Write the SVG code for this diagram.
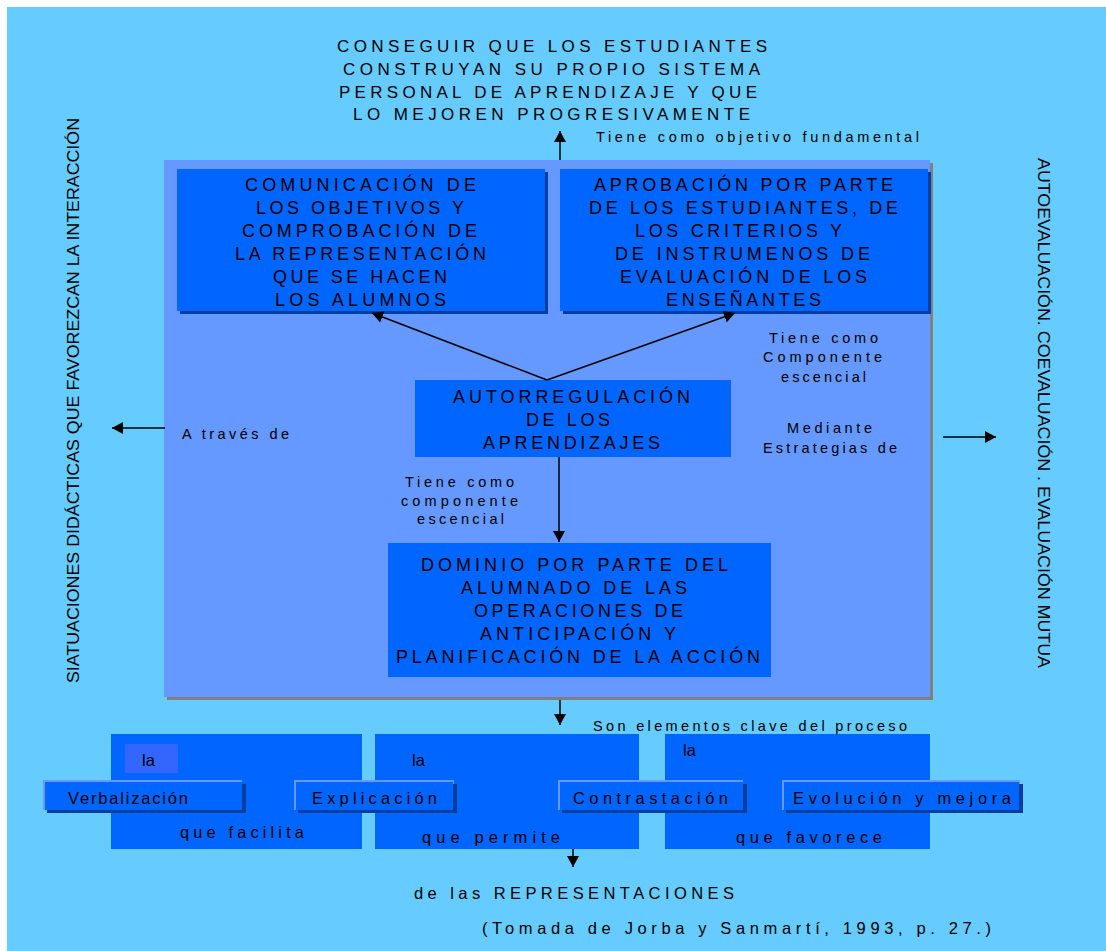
<svg xmlns="http://www.w3.org/2000/svg" width="1106" height="951" viewBox="0 0 1106 951">
<defs>
<style>
text{font-family:"Liberation Sans",Arial,sans-serif;fill:#000}
.t{font-size:17px}
.b{font-size:18px}
.s{font-size:14.5px}
.m{font-size:16.5px}
.v{font-size:17px}
.box{fill:#0066FF}
.sh{fill:#003FA0}
.lt{fill:#6699FF}
.con{stroke:#000;stroke-width:1.5;fill:none;marker-end:url(#ah)}
</style>
<marker id="ah" markerUnits="userSpaceOnUse" markerWidth="12" markerHeight="12" refX="11" refY="6" orient="auto">
<path d="M0,0 L11,6 L0,12 z" fill="#000"/>
</marker>
</defs>
<rect x="0" y="0" width="1106" height="951" fill="#FFFFFF"/>
<rect x="7" y="7" width="1099" height="944" fill="#66CCFF"/>

<g id="title">
<text class="t" x="337" y="52" textLength="430" lengthAdjust="spacing">CONSEGUIR QUE LOS ESTUDIANTES</text>
<text class="t" x="343" y="75" textLength="417" lengthAdjust="spacing">CONSTRUYAN SU PROPIO SISTEMA</text>
<text class="t" x="339" y="98" textLength="418" lengthAdjust="spacing">PERSONAL DE APRENDIZAJE Y QUE</text>
<text class="t" x="353" y="120" textLength="397" lengthAdjust="spacing">LO MEJOREN PROGRESIVAMENTE</text>
</g>

<g id="panel">
<rect x="167" y="163" width="766" height="537" fill="#808080"/>
<rect x="164" y="160" width="766" height="537" fill="#6699FF"/>
</g>

<g id="node-comunicacion">
<rect class="sh" x="180" y="172" width="368" height="142"/>
<rect class="box" x="177" y="169" width="368" height="142"/>
<text class="b" x="245" y="191" textLength="231" lengthAdjust="spacing">COMUNICACIÓN DE</text>
<text class="b" x="256" y="214" textLength="208" lengthAdjust="spacing">LOS OBJETIVOS Y</text>
<text class="b" x="242" y="237" textLength="235" lengthAdjust="spacing">COMPROBACIÓN DE</text>
<text class="b" x="235" y="260" textLength="251" lengthAdjust="spacing">LA REPRESENTACIÓN</text>
<text class="b" x="273" y="283" textLength="174" lengthAdjust="spacing">QUE SE HACEN</text>
<text class="b" x="275" y="306" textLength="171" lengthAdjust="spacing">LOS ALUMNOS</text>
</g>

<g id="node-aprobacion">
<rect class="sh" x="563" y="172" width="368" height="142"/>
<rect class="box" x="560" y="169" width="368" height="142"/>
<text class="b" x="594" y="191" textLength="299" lengthAdjust="spacing">APROBACIÓN POR PARTE</text>
<text class="b" x="589" y="214" textLength="309" lengthAdjust="spacing">DE LOS ESTUDIANTES, DE</text>
<text class="b" x="635" y="237" textLength="207" lengthAdjust="spacing">LOS CRITERIOS Y</text>
<text class="b" x="615" y="260" textLength="255" lengthAdjust="spacing">DE INSTRUMENOS DE</text>
<text class="b" x="620" y="283" textLength="247" lengthAdjust="spacing">EVALUACIÓN DE LOS</text>
<text class="b" x="666" y="306" textLength="155" lengthAdjust="spacing">ENSEÑANTES</text>
</g>

<g id="node-autorregulacion">
<rect class="box" x="415" y="380" width="316" height="77"/>
<text class="b" x="453" y="403" textLength="237" lengthAdjust="spacing">AUTORREGULACIÓN</text>
<text class="b" x="526" y="426" textLength="84" lengthAdjust="spacing">DE LOS</text>
<text class="b" x="483" y="449" textLength="177" lengthAdjust="spacing">APRENDIZAJES</text>
</g>

<g id="node-dominio">
<rect class="box" x="388" y="543" width="383" height="134"/>
<text class="b" x="421" y="571" textLength="307" lengthAdjust="spacing">DOMINIO POR PARTE DEL</text>
<text class="b" x="461" y="594" textLength="226" lengthAdjust="spacing">ALUMNADO DE LAS</text>
<text class="b" x="474" y="617" textLength="209" lengthAdjust="spacing">OPERACIONES DE</text>
<text class="b" x="480" y="640" textLength="196" lengthAdjust="spacing">ANTICIPACIÓN Y</text>
<text class="b" x="396" y="663" textLength="364" lengthAdjust="spacing">PLANIFICACIÓN DE LA ACCIÓN</text>
</g>

<g id="labels">
<text class="s" x="596" y="142" textLength="323" lengthAdjust="spacing">Tiene como objetivo fundamental</text>
<text class="s" x="769" y="343" textLength="109" lengthAdjust="spacing">Tiene como</text>
<text class="s" x="763" y="362" textLength="119" lengthAdjust="spacing">Componente</text>
<text class="s" x="781" y="382" textLength="85" lengthAdjust="spacing">escencial</text>
<text class="s" x="787" y="433" textLength="85" lengthAdjust="spacing">Mediante</text>
<text class="s" x="763" y="453" textLength="134" lengthAdjust="spacing">Estrategias de</text>
<text class="s" x="182" y="439" textLength="107" lengthAdjust="spacing">A través de</text>
<text class="s" x="405" y="487" textLength="109" lengthAdjust="spacing">Tiene como</text>
<text class="s" x="401" y="506" textLength="117" lengthAdjust="spacing">componente</text>
<text class="s" x="417" y="524" textLength="87" lengthAdjust="spacing">escencial</text>
<text class="s" x="593" y="731" textLength="314" lengthAdjust="spacing">Son elementos clave del proceso</text>
</g>

<g id="side-left">
<text class="v" transform="translate(79,683) rotate(-90)" x="0" y="0" textLength="565" lengthAdjust="spacingAndGlyphs">SIATUACIONES DIDÁCTICAS QUE FAVOREZCAN LA INTERACCIÓN</text>
</g>
<g id="side-right">
<text class="v" transform="translate(1038,158) rotate(90)" x="0" y="0" textLength="510" lengthAdjust="spacingAndGlyphs">AUTOEVALUACIÓN. COEVALUACIÓN . EVALUACIÓN MUTUA</text>
</g>

<g id="bottom-panels">
<rect class="box" x="111" y="734" width="251" height="115"/>
<rect fill="#3366FF" x="125" y="744" width="53" height="29"/>
<text class="m" x="142" y="766">la</text>
<text class="m" x="180" y="838" textLength="124" lengthAdjust="spacing">que facilita</text>
<rect class="box" x="375" y="734" width="264" height="115"/>
<text class="m" x="412" y="766">la</text>
<text class="m" x="422" y="843" textLength="138" lengthAdjust="spacing">que permite</text>
<rect class="box" x="665" y="734" width="265" height="115"/>
<text class="m" x="683" y="756">la</text>
<text class="m" x="736" y="843" textLength="146" lengthAdjust="spacing">que favorece</text>
</g>

<g id="node-verbalizacion">
<rect class="lt" x="43" y="780" width="199" height="30"/>
<rect class="sh" x="47" y="784" width="199" height="29"/>
<rect class="box" x="45" y="782" width="197" height="28"/>
<text class="m" x="68" y="804" textLength="120" lengthAdjust="spacing">Verbalización</text>
</g>
<g id="node-explicacion">
<rect class="lt" x="294" y="780" width="160" height="30"/>
<rect class="sh" x="298" y="784" width="159" height="29"/>
<rect class="box" x="296" y="782" width="157" height="28"/>
<text class="m" x="312" y="804" textLength="125" lengthAdjust="spacing">Explicación</text>
</g>
<g id="node-contrastacion">
<rect class="lt" x="558" y="780" width="185" height="30"/>
<rect class="sh" x="562" y="784" width="185" height="29"/>
<rect class="box" x="560" y="782" width="183" height="28"/>
<text class="m" x="573" y="804" textLength="155" lengthAdjust="spacing">Contrastación</text>
</g>
<g id="node-evolucion">
<rect class="lt" x="782" y="780" width="238" height="30"/>
<rect class="sh" x="786" y="784" width="237" height="29"/>
<rect class="box" x="784" y="782" width="235" height="28"/>
<text class="m" x="793" y="804" textLength="218" lengthAdjust="spacing">Evolución y mejora</text>
</g>

<g id="footer">
<text class="m" x="414" y="899" textLength="320" lengthAdjust="spacing">de las REPRESENTACIONES</text>
<text class="m" x="482" y="934" textLength="509" lengthAdjust="spacing">(Tomada de Jorba y Sanmartí, 1993, p. 27.)</text>
</g>

<g id="connectors">
<line class="con" x1="560" y1="160" x2="560" y2="131"/>
<line class="con" x1="547" y1="380" x2="372" y2="313"/>
<line class="con" x1="547" y1="380" x2="735" y2="313"/>
<line class="con" x1="559" y1="457" x2="559" y2="542"/>
<line class="con" x1="165" y1="428" x2="112" y2="428"/>
<line class="con" x1="943" y1="437" x2="996" y2="437"/>
<line class="con" x1="560" y1="700" x2="560" y2="725"/>
<line class="con" x1="573" y1="849" x2="573" y2="867"/>
</g>
</svg>
